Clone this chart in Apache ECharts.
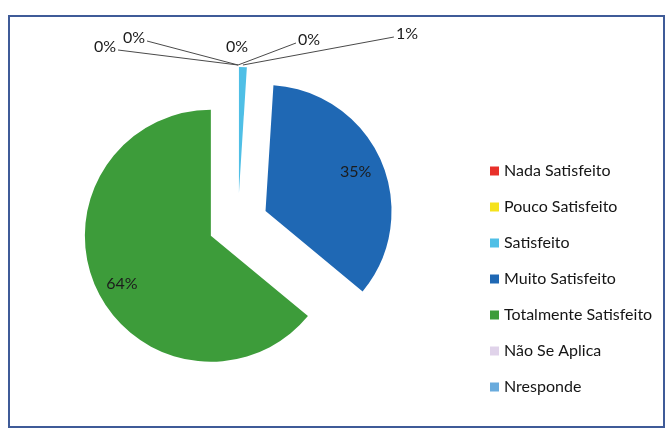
<!DOCTYPE html>
<html lang="pt">
<head>
<meta charset="utf-8">
<title>Satisfação</title>
<script src="https://cdn.jsdelivr.net/npm/echarts@6/dist/echarts.min.js"></script>
<style>
  html, body { margin: 0; padding: 0; background: #fff; }
  #grafico { width: 666px; height: 428px; }
</style>
</head>
<body>
<div id="grafico"></div>
<script>
// dados
var categorias = ['Nada Satisfeito', 'Pouco Satisfeito', 'Satisfeito', 'Muito Satisfeito',
                  'Totalmente Satisfeito', 'Não Se Aplica', 'Nresponde'];
var valores = [0, 0, 1, 35, 64, 0, 0];
var cores = ['#e8302a', '#f5e21c', '#4fbfe6', '#1f68b4', '#3d9c3a', '#e0d3ea', '#69abdd'];

var centro = [238, 223];
var raio = 126;
var afastamento = 30;

// rótulos das fatias pequenas: deslocamento a partir do topo da fatia
var rotulosTopo = {
    0: { dx: -1, dy: -15, align: 'center', linha: false },
    1: { dx: 58, dy: -22, align: 'left', linha: true },
    2: { dx: 151, dy: -28, align: 'left', linha: true },
    5: { dx: -120, dy: -15, align: 'right', linha: true },
    6: { dx: -91, dy: -24, align: 'right', linha: true }
};

var dados = categorias.map(function (nome, i) {
    var grande = valores[i] > 5;
    return {
        name: nome,
        value: valores[i],
        selected: true,
        itemStyle: { color: cores[i] },
        label: { position: grande ? 'inside' : 'outside' },
        labelLine: { show: !grande && (!rotulosTopo[i] || rotulosTopo[i].linha) }
    };
});

var grafico = echarts.init(document.getElementById('grafico'));
grafico.setOption({
    backgroundColor: '#fff',
    animation: false,
    textStyle: { fontFamily: 'Lato' },
    graphic: [{
        type: 'rect',
        shape: { x: 9, y: 16, width: 655, height: 411 },
        style: { fill: 'none', stroke: '#3f5b98', lineWidth: 2 },
        silent: true
    }],
    legend: {
        orient: 'vertical',
        left: 485,
        top: 157,
        itemWidth: 9,
        itemHeight: 9,
        itemGap: 18,
        icon: 'rect',
        selectedMode: false,
        textStyle: { fontSize: 16, color: '#151515', lineHeight: 18, fontFamily: 'Lato' },
        data: categorias
    },
    series: [{
        type: 'pie',
        center: centro,
        radius: raio,
        startAngle: 90,
        clockwise: true,
        selectedMode: 'multiple',
        selectedOffset: afastamento,
        avoidLabelOverlap: false,
        percentPrecision: 0,
        emphasis: { disabled: true },
        select: { itemStyle: { borderWidth: 0 } },
        label: {
            formatter: '{d}%',
            fontSize: 16,
            color: '#1c1c1c',
            fontFamily: 'Lato'
        },
        labelLine: {
            lineStyle: { color: '#4a4a4a', width: 1 }
        },
        labelLayout: function (p) {
            var r = p.labelRect;
            var cfg = rotulosTopo[p.dataIndex];
            if (cfg) {
                var ax = p.rect.x + p.rect.width / 2;
                var ay = p.rect.y - 2;
                var ex = ax + cfg.dx, ey = ay + cfg.dy;
                var dx;
                if (cfg.align === 'right') dx = (ex - 2) - (r.x + r.width);
                else if (cfg.align === 'left') dx = (ex + 2) - r.x;
                else dx = ex - (r.x + r.width / 2);
                return {
                    dx: dx,
                    dy: (ey - 3) - (r.y + r.height / 2),
                    labelLinePoints: [[ax, ay], [ex, ey], [ex, ey]]
                };
            }
            // fatias grandes: rótulo mais perto da borda (labelRect sem o afastamento)
            var cx = r.x + r.width / 2;
            var cy = r.y + r.height / 2;
            var vx = cx - centro[0], vy = cy - centro[1];
            var d = Math.sqrt(vx * vx + vy * vy);
            var alvo = raio * 0.78;
            return {
                dx: vx / d * (alvo - d),
                dy: vy / d * (alvo - d) + (vy > 0 ? 6 : 0)
            };
        },
        data: dados
    }]
});
</script>
</body>
</html>
